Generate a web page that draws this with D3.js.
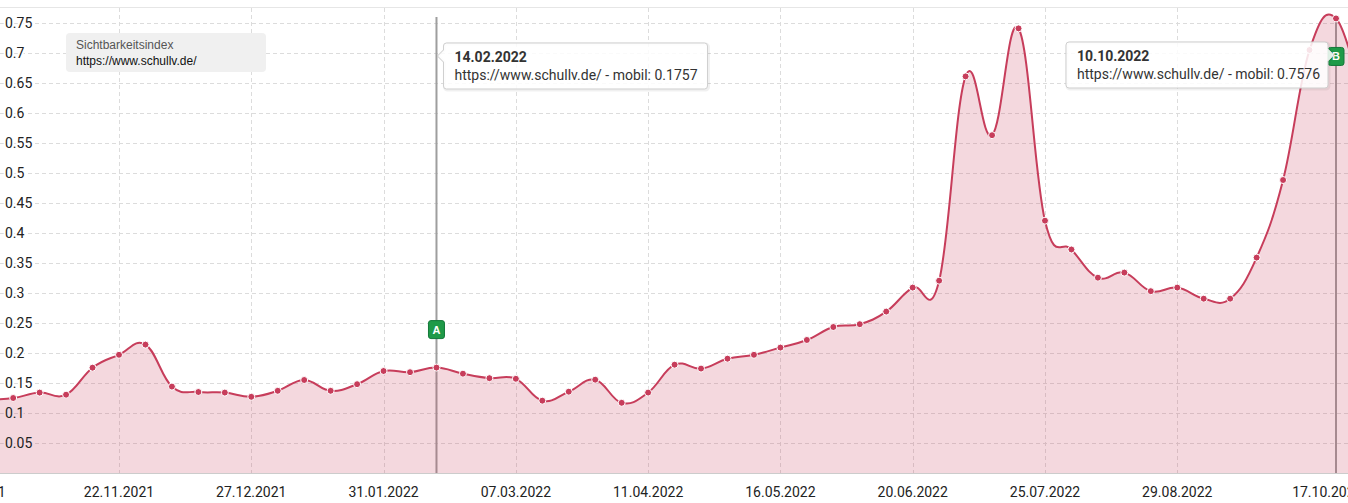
<!DOCTYPE html>
<html><head><meta charset="utf-8">
<script src="https://cdn.jsdelivr.net/npm/d3@7/dist/d3.min.js"></script>
<style>
html,body{margin:0;padding:0;background:#fff;overflow:hidden}
svg{display:block;font-family:Roboto,"Liberation Sans",Arial,sans-serif}
</style></head><body>
<svg id="chart" width="1348" height="503"></svg>
<script>
// ---------- data ----------
const weekDates = ["18.10.2021","25.10.2021","01.11.2021","08.11.2021","15.11.2021","22.11.2021","29.11.2021",
"06.12.2021","13.12.2021","20.12.2021","27.12.2021","03.01.2022","10.01.2022","17.01.2022","24.01.2022",
"31.01.2022","07.02.2022","14.02.2022","21.02.2022","28.02.2022","07.03.2022","14.03.2022","21.03.2022",
"28.03.2022","04.04.2022","11.04.2022","18.04.2022","25.04.2022","02.05.2022","09.05.2022","16.05.2022",
"23.05.2022","30.05.2022","06.06.2022","13.06.2022","20.06.2022","27.06.2022","04.07.2022","11.07.2022",
"18.07.2022","25.07.2022","01.08.2022","08.08.2022","15.08.2022","22.08.2022","29.08.2022","05.09.2022",
"12.09.2022","19.09.2022","26.09.2022","03.10.2022","10.10.2022","17.10.2022"];
const visibility = [0.122,0.125,0.134,0.1305,0.1755,0.197,0.214,
0.144,0.135,0.134,0.127,0.137,0.155,0.137,0.148,
0.170,0.168,0.1757,0.1655,0.158,0.157,0.1205,0.1355,
0.1555,0.117,0.134,0.1805,0.174,0.1905,0.197,0.209,
0.2217,0.2433,0.248,0.269,0.309,0.3205,0.661,0.563,
0.741,0.4205,0.3725,0.3255,0.334,0.303,0.309,0.2905,
0.2905,0.359,0.4883,0.705,0.7576,0.62];
const xTickLabels = ["18.10.2021","22.11.2021","27.12.2021","31.01.2022","07.03.2022","11.04.2022",
"16.05.2022","20.06.2022","25.07.2022","29.08.2022","17.10.2022"];
const yTickValues = [0.05,0.1,0.15,0.2,0.25,0.3,0.35,0.4,0.45,0.5,0.55,0.6,0.65,0.7,0.75];
const yTickLabels = ["0.05","0.1","0.15","0.2","0.25","0.3","0.35","0.4","0.45","0.5","0.55","0.6","0.65","0.7","0.75"];
const markerDates = ["14.02.2022","10.10.2022"];
const markerLabels = ["A","B"];
const legendTitle = "Sichtbarkeitsindex";
const legendDomain = "https://www.schullv.de/";
const seriesName = "https://www.schullv.de/ - mobil";

// ---------- setup ----------
const W = 1348, H = 503;
const parse = d3.utcParse("%d.%m.%Y");
const fmt = d3.utcFormat("%d.%m.%Y");
const data = weekDates.map((d,i)=>({date:parse(d), value:visibility[i]}));

const lineColor = "#c73d5b";
const areaOpacity = 0.2;
const gridColor = "#dcdcdc";

const x = d3.scaleUtc().domain([parse("22.11.2021"), parse("10.10.2022")]).range([119, 1336]);
const y = d3.scaleLinear().domain([0, 0.75]).range([473, 23]);

const svg = d3.select("#chart");

// top border
svg.append("line").attr("x1",0).attr("x2",W).attr("y1",7.5).attr("y2",7.5)
  .attr("stroke","#e6e6e6").attr("stroke-width",1);

// horizontal gridlines
svg.append("g").selectAll("line").data(yTickValues).join("line")
  .attr("x1",0).attr("x2",W)
  .attr("y1",d=>Math.round(y(d))+0.5).attr("y2",d=>Math.round(y(d))+0.5)
  .attr("stroke",gridColor).attr("stroke-dasharray","4,3");

// vertical gridlines
const tickDates = xTickLabels.map(parse);
svg.append("g").selectAll("line").data(tickDates).join("line")
  .attr("x1",d=>Math.round(x(d))+0.5).attr("x2",d=>Math.round(x(d))+0.5)
  .attr("y1",8).attr("y2",y(0))
  .attr("stroke",gridColor).attr("stroke-dasharray","4,3");

// plot lines A / B
const mDates = markerDates.map(parse);
svg.append("g").selectAll("line").data(mDates).join("line")
  .attr("x1",d=>x(d)).attr("x2",d=>x(d))
  .attr("y1",17).attr("y2",y(0))
  .attr("stroke","#9e9e9e").attr("stroke-width",2);

// Highcharts-like spline
function splinePath(pts){
  let d = `M${pts[0][0]},${pts[0][1]}`;
  const rc = [];
  const s = 1.5, den = 2.5;
  for (let i=1;i<pts.length;i++){
    const [px,py] = pts[i], [lx,ly] = pts[i-1];
    let leftX = px, leftY = py;
    if (i < pts.length-1){
      const [nx,ny] = pts[i+1];
      leftX = (s*px+lx)/den; leftY = (s*py+ly)/den;
      let rightX = (s*px+nx)/den, rightY = (s*py+ny)/den;
      let corr = 0;
      if (rightX !== leftX) corr = ((rightY-leftY)*(rightX-px))/(rightX-leftX) + py - rightY;
      leftY += corr; rightY += corr;
      rc[i] = [rightX,rightY];
    }
    const pc = rc[i-1] || [lx,ly];
    d += `C${pc[0]},${pc[1]},${leftX},${leftY},${px},${py}`;
  }
  return d;
}
const pts = data.map(d=>[x(d.date), y(d.value)]);
const lp = splinePath(pts);

// area
svg.append("path")
  .attr("d", lp + `L${pts[pts.length-1][0]},${y(0)}L${pts[0][0]},${y(0)}Z`)
  .attr("fill", lineColor).attr("fill-opacity", areaOpacity);

// baseline
svg.append("line").attr("x1",0).attr("x2",W).attr("y1",y(0)+0.5).attr("y2",y(0)+0.5)
  .attr("stroke","#cccccc");

// line
svg.append("path").attr("d", lp).attr("fill","none")
  .attr("stroke", lineColor).attr("stroke-width", 2);

// points
svg.append("g").selectAll("circle").data(data).join("circle")
  .attr("cx",d=>x(d.date)).attr("cy",d=>y(d.value)).attr("r",3.5)
  .attr("fill",lineColor).attr("stroke","#fff").attr("stroke-width",1);

// y labels
const pinkBg = d3.interpolateRgb("#ffffff", lineColor)(areaOpacity);
const leftVal = visibility[1];
svg.append("g").selectAll("text").data(yTickValues).join("text")
  .attr("x",5).attr("y",d=>y(d)+5)
  .attr("font-size",14).attr("fill","#222")
  .attr("stroke",d=> d < leftVal ? pinkBg : "#fff").attr("stroke-width",4)
  .attr("paint-order","stroke").attr("stroke-linejoin","round")
  .text((d,i)=>yTickLabels[i]);

// x labels
svg.append("g").selectAll("text").data(tickDates).join("text")
  .attr("x",(d,i)=>{
    const px = x(d);
    if (i===0) return px + 19;
    return px;
  })
  .attr("text-anchor",(d,i)=> i===0 || i===tickDates.length-1 ? "end" : "middle")
  .attr("y",497).attr("font-size",14).attr("fill","#222")
  .text((d,i)=>xTickLabels[i]);

// markers A/B
mDates.forEach((md,i)=>{
  const pv = data.find(d=>+d.date===+md);
  const py = y(pv.value);
  const cy = (py - 38 > 20) ? py - 38 : py + 38;
  const g = svg.append("g").attr("transform",`translate(${x(md)},${cy})`);
  g.append("rect").attr("x",-8).attr("y",-9).attr("width",16).attr("height",18).attr("rx",2.5)
    .attr("fill","#1f9a48").attr("stroke","#14793a").attr("stroke-width",1);
  g.append("text").attr("y",4).attr("text-anchor","middle").attr("font-size",11)
    .attr("font-weight","bold").attr("fill","#fff")
    .attr("font-family","'Liberation Sans',Arial,sans-serif").text(markerLabels[i]);
});

// tooltips
function callout(x0,y0,w,h,r,anchorY,side){
  const a = 6;
  let p = `M${x0+r},${y0}H${x0+w-r}A${r},${r} 0 0 1 ${x0+w},${y0+r}`;
  if (side==="right") p += `V${anchorY-a}L${x0+w+a},${anchorY}L${x0+w},${anchorY+a}`;
  p += `V${y0+h-r}A${r},${r} 0 0 1 ${x0+w-r},${y0+h}H${x0+r}A${r},${r} 0 0 1 ${x0},${y0+h-r}`;
  if (side==="left") p += `V${anchorY+a}L${x0-a},${anchorY}L${x0},${anchorY-a}`;
  p += `V${y0+r}A${r},${r} 0 0 1 ${x0+r},${y0}Z`;
  return p;
}
const tips = [
  {date: mDates[0], side:"left", bx: x(mDates[0])+7, by:43, w:264, h:46},
  {date: mDates[1], side:"right", bx: x(mDates[1])-270, by:42, w:262, h:46}
];
tips.forEach(t=>{
  const pv = data.find(d=>+d.date===+t.date);
  const g = svg.append("g");
  g.append("path").attr("d",callout(t.bx+1,t.by+1,t.w,t.h,3,t.by+13,t.side))
    .attr("fill","none").attr("stroke","rgba(0,0,0,0.06)").attr("stroke-width",3);
  g.append("path").attr("d",callout(t.bx,t.by,t.w,t.h,3,t.by+13,t.side))
    .attr("fill","rgba(255,255,255,0.86)").attr("stroke","#cfcfcf").attr("stroke-width",1);
  g.append("text").attr("x",t.bx+11).attr("y",t.by+19).attr("font-size",14)
    .attr("font-weight","bold").attr("fill","#333").text(fmt(pv.date));
  g.append("text").attr("x",t.bx+11).attr("y",t.by+37).attr("font-size",14)
    .attr("fill","#333").text(`${seriesName}: ${pv.value.toFixed(4)}`);
});

// legend box
const lg = svg.append("g");
lg.append("rect").attr("x",66).attr("y",33).attr("width",200).attr("height",39).attr("rx",4)
  .attr("fill","#f0f0f0");
lg.append("text").attr("x",76).attr("y",49).attr("font-size",12).attr("fill","#555")
  .attr("font-family","'Liberation Sans',Arial,sans-serif").text(legendTitle);
lg.append("text").attr("x",76).attr("y",65).attr("font-size",12).attr("fill","#111")
  .attr("font-family","'Liberation Sans',Arial,sans-serif").text(legendDomain);
</script>
</body></html>
